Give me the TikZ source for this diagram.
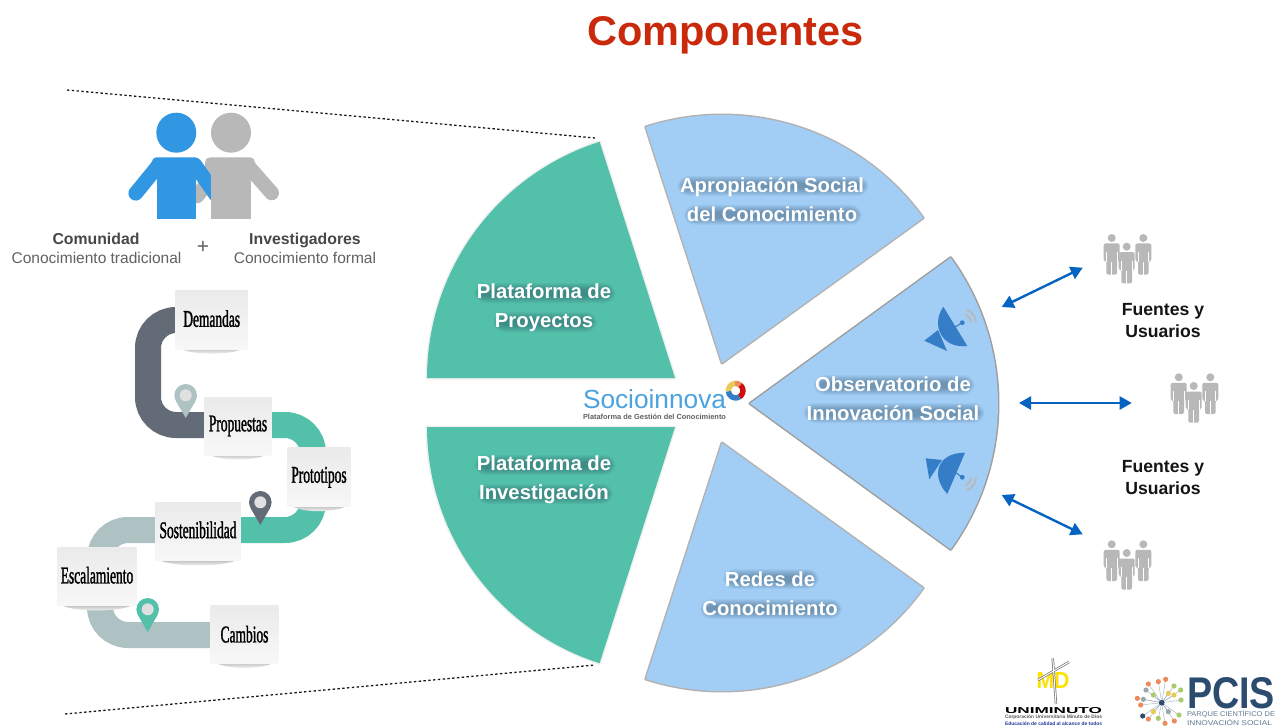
\documentclass[tikz,border=0pt]{standalone}
\usepackage{fontspec}
\usepackage{graphicx}
\setmainfont{Liberation Sans}
\newfontfamily\condfont[FakeStretch=0.56,FakeBold=1.2]{Liberation Serif}
\usetikzlibrary{arrows.meta}
\definecolor{wgreen}{HTML}{53C0A9}
\definecolor{wblue}{HTML}{A2CEF6}
\definecolor{roaddark}{HTML}{636B76}
\definecolor{roadlight}{HTML}{AEC2C3}
\definecolor{titlered}{HTML}{C92A0C}
\definecolor{arrowblue}{HTML}{0563C1}
\definecolor{dishblue}{HTML}{357EC7}
\definecolor{persongray}{HTML}{B8B8B8}
\definecolor{personblue}{HTML}{3297E2}
\definecolor{pcisnavy}{HTML}{2B4C6F}
\definecolor{logoblue}{HTML}{4AA3DF}
\definecolor{dotor}{HTML}{EE8B5A}
\definecolor{dotgr}{HTML}{A9CB6E}
\definecolor{dotye}{HTML}{E9C957}
\definecolor{dotgy}{HTML}{9AA7AE}
\definecolor{halocol}{HTML}{1E3A4E}
\tikzset{
  x=1pt,y=-1pt,
  road/.style={line width=26pt,rounded corners=28pt},
  guide/.style={line width=1.3pt,dash pattern=on 2.4pt off 2.4pt,black!90},
  link/.style={{Triangle[length=12pt,width=13pt]}-{Triangle[length=12pt,width=13pt]},line width=2.4pt,arrowblue},
  wlabel/.style={align=center,font=\bfseries\fontsize{20.3}{29}\selectfont,inner sep=0pt,text=white},
  cardbox/.style={rectangle,inner sep=0pt,top color=black!8,bottom color=blue!2!black!3,font=\condfont\fontsize{24}{24}\selectfont,text=black},
  lefthead/.style={anchor=base,font=\bfseries\fontsize{15.8}{18}\selectfont,text=black!72,inner sep=0pt},
  leftsub/.style={anchor=base,font=\fontsize{15.5}{18}\selectfont,text=black!62,inner sep=0pt},
  fuentes/.style={align=center,font=\bfseries\fontsize{17.6}{22}\selectfont,inner sep=0pt,text=black!92},
}
\newcommand{\mywedge}[6]{%
  \draw[line width=3pt,black!#6,line join=round] (#1,#2) -- plot[domain=#3:#4,samples=50] ({#1+248*cos(\x)},{#2-248*sin(\x)}) -- cycle;
  \fill[#5,line join=round] (#1,#2) -- plot[domain=#3:#4,samples=50] ({#1+248*cos(\x)},{#2-248*sin(\x)}) -- cycle;}
% soft dark glow under one line of text: centre x, centre y, width
\newcommand{\halo}[3]{%
  \foreach \e in {0,1,...,7}{%
    \fill[halocol,opacity=.055,rounded corners={(\e+4)*1pt}] ({#1-#3/2-\e+5},{#2-3-\e+1}) rectangle ({#1+#3/2+\e-3},{#2+3+\e+1});}}
\newcommand{\mycard}[7]{%
  \shade[top color=black!22,bottom color=white] ({#2-#4/2+6},{#3+#5/2}) .. controls ({#2-#4/4},{#3+#5/2+6}) and ({#2+#4/4},{#3+#5/2+6}) .. ({#2+#4/2-6},{#3+#5/2}) -- cycle;
  \node[cardbox,minimum width=#4pt,minimum height=#5pt] (#1) at (#2,#3) {\raisebox{#7pt}{#6}};}
\newcommand{\mypin}[3]{%
  \fill[#3] (#1,#2+11.3) circle[radius=11.3];
  \fill[#3] (#1-9.8,#2+17) -- (#1,#2+34) -- (#1+9.8,#2+17) -- cycle;
  \fill[black!12] (#1,#2+11.3) circle[radius=6];}
\newcommand{\oneperson}[2]{%
  \begin{scope}[shift={(#1,#2)}]
  \fill[persongray] (0,0) circle[radius=4];
  \fill[persongray,rounded corners=2pt] (-8,5.5) -- (8,5.5) -- (8,23) -- (5.3,23) -- (5.3,36.7) -- (-5.3,36.7) -- (-5.3,23) -- (-8,23) -- cycle;
  \draw[white,line width=.5pt] (-5.3,14) -- (-5.3,24) (5.3,14) -- (5.3,24) (0,24) -- (0,37);
  \end{scope}}
\newcommand{\mypeople}[2]{%
  \begin{scope}[shift={(#1,#2)}]
  \oneperson{-15}{-8.7}\oneperson{16.6}{-8.7}\oneperson{0}{0}
  \end{scope}}
\begin{document}
\begin{tikzpicture}
\fill[white] (0,0) rectangle (1276,727);
\useasboundingbox (0,0) rectangle (1276,727);

% title
\node[font=\bfseries\fontsize{41.5}{44}\selectfont,text=titlered,inner sep=0pt] (title) at (725.5,35) {Componentes};

% guide lines
\coordinate (gt1) at (67,90); \coordinate (gt2) at (595,138);
\coordinate (gb1) at (65,714); \coordinate (gb2) at (595,665);
\draw[guide] (gt1) -- (gt2);
\draw[guide] (gb1) -- (gb2);

% wedges
\mywedge{675}{378}{107.7}{180}{wgreen}{6}
\mywedge{675}{427}{180}{252.3}{wgreen}{6}
\mywedge{722}{363}{35.8}{107.9}{wblue}{30}
\mywedge{750}{403.5}{-36}{36}{wblue}{38}
\mywedge{722}{443}{-35.8}{-107.9}{wblue}{30}

\halo{544}{292}{135}\halo{544}{321}{98}
\halo{544}{464}{135}\halo{544}{493}{130}
\halo{772}{185}{185}\halo{772}{214}{172}
\halo{893}{384}{155}\halo{893}{412}{175}
\halo{770}{578}{90}\halo{770}{608}{136}
\node[wlabel] (lprojects) at (544,308) {Plataforma de\\Proyectos};
\node[wlabel] (linvest) at (544,480) {Plataforma de\\Investigación};
\node[wlabel] (lapro) at (772,200) {Apropiación Social\\del Conocimiento};
\node[wlabel] (lobs) at (893,399) {Observatorio de\\Innovación Social};
\node[wlabel] (lredes) at (770,593.5) {Redes de\\Conocimiento};

% dishes
\fill[dishblue] (943.3,306.7) .. controls (930,326.5) and (943,349) .. (967.3,346) -- cycle;
\fill[dishblue] (924.3,340.7) -- (938,330) -- (947,351) -- cycle;
\draw[dishblue,line width=1.1pt] (953.3,328) -- (962.3,322.7);
\fill[dishblue] (962.3,322.7) circle[radius=2.4];
\draw[persongray,line width=1.8pt] plot[domain=0:72,samples=12] ({962.3+8.5*cos(\x)},{322.7-8.5*sin(\x)});
\draw[persongray,line width=1.8pt] plot[domain=0:72,samples=12] ({962.3+13.5*cos(\x)},{322.7-13.5*sin(\x)});
\fill[dishblue] (965,452.7) .. controls (938,452.4) and (929.7,475) .. (947.3,494) -- cycle;
\fill[dishblue] (925.7,458.3) -- (942,460) -- (929.3,479.3) -- cycle;
\draw[dishblue,line width=1.1pt] (952,470) -- (962.3,477.3);
\fill[dishblue] (962.3,477.3) circle[radius=2.4];
\draw[persongray,line width=1.8pt] plot[domain=-72:0,samples=12] ({962.3+8.5*cos(\x)},{477.3-8.5*sin(\x)});
\draw[persongray,line width=1.8pt] plot[domain=-72:0,samples=12] ({962.3+13.5*cos(\x)},{477.3-13.5*sin(\x)});

% logo
\node[anchor=center,inner sep=0pt,text=logoblue] (socio) at (654.5,399.5) {\resizebox{143pt}{19pt}{\fontsize{30}{30}\selectfont Socioinnova}};
\node[inner sep=0pt,text=black!62] (sociosub) at (654.5,416.5) {\resizebox{143pt}{!}{\bfseries\fontsize{7}{8}\selectfont Plataforma de Gestión del Conocimiento}};
\draw[line width=5.4pt,dotye] plot[domain=70:185,samples=14] ({735.7+7.2*cos(\x)},{390.7-7.2*sin(\x)});
\draw[line width=5.4pt,dotor] plot[domain=45:95,samples=8] ({735.7+7.2*cos(\x)},{390.7-7.2*sin(\x)});
\draw[line width=5.4pt,red!80!black!95] plot[domain=-60:50,samples=14] ({735.7+7.2*cos(\x)},{390.7-7.2*sin(\x)});
\draw[line width=5.4pt,dishblue] plot[domain=185:300,samples=14] ({735.7+7.2*cos(\x)},{390.7-7.2*sin(\x)});

% persons
\fill[persongray] (231,132.7) circle[radius=20];
\draw[persongray,line width=14.6pt,line cap=round] (222,165) -- (197,196);
\fill[persongray,rounded corners=5pt] (205,175) -- (205,157.3) -- (255,157.3) -- (255,175) -- cycle;
\fill[personblue] (176.3,132.7) circle[radius=20];
\draw[personblue,line width=14.6pt,line cap=round] (158,166) -- (135.7,193.3);
\draw[personblue,line width=14.6pt,line cap=round] (195,165) -- (216,195);
\fill[personblue,rounded corners=5pt] (151.7,175) -- (151.7,157.3) -- (200,157.3) -- (200,175) -- cycle;
\fill[personblue] (156.7,170) rectangle (196,219.3);
\fill[persongray] (211.3,165) rectangle (251,219.3);
\fill[white] (196,205) rectangle (211.3,222);
\draw[persongray,line width=14.6pt,line cap=round] (248,166) -- (271.7,193);

\node[lefthead] (comtitle) at (96,245) {Comunidad};
\node[leftsub] (comsub) at (96.5,264) {Conocimiento tradicional};
\node[font=\fontsize{21}{24}\selectfont,text=black!62,inner sep=0pt] (plus) at (203,247.5) {+};
\node[lefthead] (invtitle) at (305,245) {Investigadores};
\node[leftsub] (invsub) at (305,264) {Conocimiento formal};

% road
\draw[road,roadlight] (170,530) -- (100,530) -- (100,635) -- (220,635);
\draw[road,wgreen] (260,425) -- (313,425) -- (313,530) -- (230,530);
\draw[road,roaddark] (200,320) -- (148,320) -- (148,425) -- (220,425);
\mypin{185.7}{384}{roadlight}
\mypin{260.3}{491}{roaddark}
\mypin{147.7}{598}{wgreen}

\mycard{cdem}{211.7}{320}{72}{58.3}{Demandas}{3}
\mycard{cprop}{238}{426}{67.4}{58}{Propuestas}{3}
\mycard{cproto}{319}{477.3}{63.4}{58.7}{Prototipos}{2}
\mycard{csost}{198}{531.8}{85.4}{58.3}{Sostenibilidad}{4}
\mycard{cesc}{97}{576.6}{79.4}{58.7}{Escalamiento}{3}
\mycard{ccam}{244.5}{634.2}{67.6}{58.3}{Cambios}{0}

% people and links
\mypeople{1126.7}{246.7}
\mypeople{1193.7}{386}
\mypeople{1126.7}{553}
\coordinate (a1) at (1001.7,307); \coordinate (a2) at (1082.7,267.7);
\coordinate (b1) at (1019,403); \coordinate (b2) at (1131.7,403);
\coordinate (c1) at (1001.7,495); \coordinate (c2) at (1082.7,534.3);
\draw[link] (a1) -- (a2);
\draw[link] (b1) -- (b2);
\draw[link] (c1) -- (c2);
\node[fuentes] (fu1) at (1163,321) {Fuentes y\\Usuarios};
\node[fuentes] (fu2) at (1163,478) {Fuentes y\\Usuarios};

% UNIMINUTO logo
\node[inner sep=0pt,text=yellow!85!orange] (md) at (1053,680) {\resizebox{33pt}{16pt}{\bfseries MD}};
\draw[black!55,line width=2.4pt] (1052.7,658) -- (1056,704) (1038,680) -- (1069,662);
\draw[white,line width=1pt] (1052.7,658) -- (1056,704) (1038,680) -- (1069,662);
\node[inner sep=0pt,text=black] (uni) at (1053.5,711) {\resizebox{97pt}{6pt}{\bfseries UNIMINUTO}};
\node[inner sep=0pt,text=black!65] (uni2) at (1053.5,717.7) {\resizebox{97pt}{!}{\bfseries\fontsize{6}{7}\selectfont Corporación Universitaria Minuto de Dios}};
\node[inner sep=0pt,text=pcisnavy!70!blue] (uni3) at (1053.5,724) {\resizebox{97pt}{!}{\bfseries\fontsize{6}{7}\selectfont Educación de calidad al alcance de todos}};

% PCIS logo
\coordinate (net) at (1161.7,702.7);
\foreach \px/\py/\pc in {505/132/dotor,535/125/dotor,557/118/dotor,582/138/dotgr,602/150/dotgr,498/150/dotgy,520/165/dotgr,472/175/dotor,490/178/dotgy,482/195/dotor,488/228/pcisnavy,505/237/dotor,535/235/dotgr,555/250/dotor,583/243/dotor,597/225/dotgr,603/180/dotgr,582/165/dotye,565/160/dotye,520/215/dotye,565/215/dotgy}{
  \draw[pcisnavy!45,line width=.4pt] (net) -- ({\px/3+980},{\py/3+640});
  \fill[\pc] ({\px/3+980},{\py/3+640}) circle[radius=2.6];
}
\fill[pcisnavy] (net) circle[radius=2.8];
\node[inner sep=0pt,text=pcisnavy] (pcis) at (1231,693.5) {\resizebox{88pt}{31pt}{\bfseries PCIS}};
\node[inner sep=0pt,text=pcisnavy!75] (pcis2) at (1231,714.5) {\resizebox{88pt}{6pt}{PARQUE CIENTÍFICO DE}};
\node[inner sep=0pt,text=pcisnavy!75] (pcis3) at (1229.5,723) {\resizebox{85pt}{6pt}{INNOVACIÓN SOCIAL}};
\end{tikzpicture}
\end{document}
